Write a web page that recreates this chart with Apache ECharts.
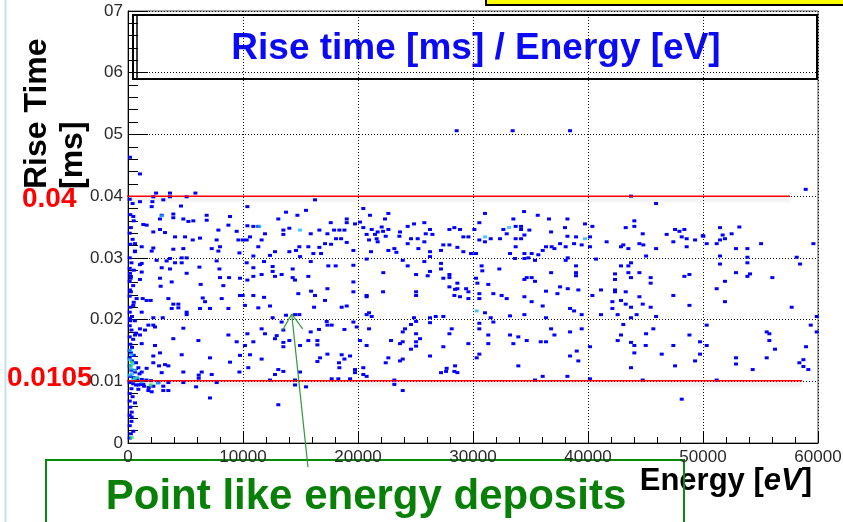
<!DOCTYPE html>
<html><head><meta charset="utf-8">
<script src="https://cdn.jsdelivr.net/npm/echarts@6/dist/echarts.min.js"></script>
<style>html,body{margin:0;padding:0;background:#fff;}#c{width:843px;height:522px;}</style>
</head><body><div id="c"></div>
<script>
// ---- Data (energy [eV], rise time [ms]) ----
const xTickValues = [0, 10000, 20000, 30000, 40000, 50000, 60000];
const yTickLabels = ['0', '0.01', '0.02', '0.03', '0.04', '05', '06', '07'];
const upperCut = 0.04;
const lowerCutLabel = '0.0105';
const lowerCutLine = 0.0101;
const upperCutRange = [-2435, 57565];
const lowerCutRange = [-870, 58610];
const arrowShaft = [[15650, -0.0039], [14235, 0.0209]];
const arrowHead = [[13450, 0.0183], [14235, 0.0209], [15190, 0.0185]];

const hitsNearZero = [[150,0.0395],[400,0.0388],[200,0.0370],[500,0.0360],[250,0.0349],[150,0.0340],[400,0.0330],[200,0.0322],[600,0.0310],[150,0.0300],[300,0.0292],[150,0.0283],[500,0.0280],[250,0.0270],[150,0.0262],[450,0.0255],[250,0.0245],[150,0.0238],[500,0.0228],[200,0.0220],[150,0.0212],[350,0.0205],[200,0.0198],[600,0.0198],[150,0.0190],[300,0.0183],[700,0.0178],[150,0.0172],[450,0.0168],[200,0.0160],[350,0.0155],[150,0.0150],[250,0.0146],[500,0.0142],[150,0.0138],[350,0.0133],[700,0.0130],[150,0.0125],[900,0.0122],[300,0.0118],[600,0.0115],[1000,0.0112],[200,0.0108],[500,0.0106],[800,0.0104],[1200,0.0103],[1600,0.0102],[2000,0.0101],[150,0.0098],[450,0.0096],[700,0.0094],[1100,0.0095],[1400,0.0092],[1800,0.0090],[300,0.0088],[900,0.0087],[150,0.0080],[400,0.0075],[150,0.0068],[200,0.0058],[150,0.0045],[300,0.0035],[150,0.0028],[250,0.0015],[150,0.0008]];

const hits0to10k = [[1040,0.0436],[170,0.0463],[2440,0.0405],[3650,0.0405],[5860,0.0405],[2200,0.0399],[3650,0.0399],[5100,0.0399],[1040,0.0391],[2120,0.0391],[3070,0.0394],[4610,0.0384],[2060,0.0383],[460,0.0367],[2930,0.0369],[3940,0.0371],[2780,0.0363],[3940,0.0365],[4810,0.0363],[5250,0.0359],[5680,0.0360],[6840,0.0369],[6840,0.0361],[8870,0.0367],[8730,0.0353],[7860,0.0345],[9450,0.0343],[1330,0.0354],[1620,0.0353],[2780,0.0346],[2200,0.0342],[3220,0.0341],[4090,0.0334],[4960,0.0334],[5630,0.0329],[6260,0.0332],[7710,0.0329],[9600,0.0329],[610,0.0323],[1190,0.0318],[2200,0.0316],[3940,0.0314],[2060,0.0311],[4810,0.0315],[7280,0.0315],[7860,0.0311],[8000,0.0318],[9690,0.0308],[610,0.0311],[3650,0.0299],[4670,0.0300],[5100,0.0300],[7710,0.0295],[2490,0.0296],[3360,0.0295],[4090,0.0292],[4670,0.0292],[1040,0.0289],[1190,0.0291],[2930,0.0284],[3650,0.0282],[6210,0.0285],[7950,0.0282],[1190,0.0277],[170,0.0275],[5100,0.0275],[2780,0.0267],[3800,0.0261],[8000,0.0268],[8790,0.0268],[230,0.0267],[1040,0.0265],[6320,0.0257],[9740,0.0267],[2840,0.0254],[8290,0.0255],[170,0.0248],[750,0.0234],[1280,0.0234],[1620,0.0231],[1970,0.0231],[3510,0.0234],[6500,0.0235],[9740,0.0239],[6700,0.0229],[8150,0.0234],[3940,0.0225],[4380,0.0225],[460,0.0223],[3800,0.0218],[4380,0.0219],[6260,0.0218],[7130,0.0218],[8730,0.0218],[1190,0.0212],[5100,0.0212],[5100,0.0208],[2200,0.0203],[3020,0.0203],[170,0.0202],[1770,0.0191],[2200,0.0191],[1040,0.0185],[1480,0.0183],[2350,0.0188],[4810,0.0186],[8730,0.0175],[610,0.0175],[1040,0.0175],[3940,0.0169],[9450,0.0164],[1190,0.0161],[2350,0.0158],[6120,0.0166],[2780,0.0146],[4670,0.0143],[9740,0.0142],[7130,0.0138],[8870,0.0131],[2200,0.0141],[2200,0.0130],[3220,0.0127],[2700,0.0125],[3510,0.0125],[1620,0.0121],[1190,0.0115],[2930,0.0114],[4810,0.0115],[6410,0.0115],[7280,0.0111],[6150,0.0110],[6150,0.0105],[9690,0.0115],[7710,0.0098],[4810,0.0098],[3510,0.0098],[2640,0.0098],[5920,0.0091],[900,0.0094],[1330,0.0095],[2200,0.0092],[3070,0.0092],[3070,0.0085],[3510,0.0085],[2060,0.0083],[1770,0.0085],[7130,0.0073],[610,0.0065],[320,0.0050],[320,0.0042],[460,0.0019]];

const hits10to20k = [[16260,0.0394],[10380,0.0383],[13740,0.0374],[15480,0.0377],[14730,0.0369],[13070,0.0363],[17630,0.0357],[19020,0.0363],[19020,0.0357],[19740,0.0355],[10380,0.0352],[10900,0.0351],[11330,0.0351],[13510,0.0345],[14030,0.0348],[16640,0.0345],[17920,0.0345],[18380,0.0345],[18820,0.0345],[11910,0.0339],[13510,0.0338],[15890,0.0339],[17340,0.0339],[10610,0.0334],[10000,0.0329],[10320,0.0329],[11620,0.0329],[18530,0.0331],[18090,0.0331],[19020,0.0325],[17130,0.0323],[11330,0.0318],[14900,0.0318],[15680,0.0318],[16640,0.0317],[17660,0.0322],[19600,0.0312],[14610,0.0312],[14030,0.0310],[12780,0.0310],[16120,0.0307],[12350,0.0304],[10900,0.0303],[14960,0.0302],[16790,0.0307],[11830,0.0294],[15890,0.0294],[10320,0.0292],[10900,0.0284],[12580,0.0286],[17420,0.0287],[18060,0.0287],[19600,0.0288],[12580,0.0278],[11620,0.0273],[13360,0.0273],[14320,0.0282],[10900,0.0270],[12780,0.0270],[15680,0.0270],[14320,0.0268],[14520,0.0264],[10380,0.0264],[19600,0.0261],[17340,0.0250],[15920,0.0246],[19600,0.0245],[14810,0.0242],[9970,0.0239],[10900,0.0239],[16260,0.0239],[11830,0.0236],[17130,0.0231],[10170,0.0223],[12350,0.0222],[16180,0.0220],[19020,0.0222],[18580,0.0220],[11330,0.0219],[12580,0.0203],[13360,0.0196],[14900,0.0208],[14520,0.0208],[13740,0.0207],[17340,0.0191],[17710,0.0191],[17280,0.0197],[19600,0.0196],[19890,0.0188],[18820,0.0184],[11620,0.0185],[13510,0.0183],[15890,0.0180],[16610,0.0184],[10380,0.0177],[11910,0.0177],[12930,0.0174],[12780,0.0169],[10900,0.0164],[14030,0.0166],[15680,0.0166],[16470,0.0166],[13510,0.0163],[10170,0.0158],[13510,0.0156],[14960,0.0158],[16470,0.0159],[17340,0.0144],[18580,0.0143],[19310,0.0141],[11620,0.0136],[10610,0.0143],[16700,0.0138],[16470,0.0132],[18820,0.0136],[18350,0.0130],[18380,0.0122],[19740,0.0119],[19740,0.0114],[10460,0.0122],[13070,0.0119],[13510,0.0116],[14960,0.0115],[12780,0.0111],[12350,0.0102],[14520,0.0102],[17710,0.0104],[18290,0.0104],[19310,0.0104],[14520,0.0094],[15480,0.0091],[13070,0.0062]];

const hits20to30k = [[28580,0.0506],[20460,0.0380],[21040,0.0369],[22640,0.0372],[20170,0.0358],[22350,0.0363],[22060,0.0350],[20460,0.0349],[21190,0.0346],[22640,0.0346],[21710,0.0342],[22180,0.0343],[24320,0.0351],[24870,0.0355],[25770,0.0357],[26260,0.0346],[25890,0.0339],[26470,0.0338],[27950,0.0346],[28380,0.0349],[28870,0.0346],[23650,0.0342],[20750,0.0338],[21480,0.0338],[22410,0.0335],[23600,0.0335],[24610,0.0331],[25190,0.0331],[29160,0.0334],[29600,0.0334],[20960,0.0329],[21620,0.0331],[21710,0.0326],[25770,0.0326],[24320,0.0323],[27420,0.0321],[27950,0.0321],[28640,0.0317],[25250,0.0315],[23160,0.0315],[26260,0.0310],[27220,0.0312],[29160,0.0310],[29830,0.0307],[21130,0.0310],[22640,0.0312],[23340,0.0309],[26260,0.0302],[20750,0.0298],[23890,0.0296],[25770,0.0294],[27220,0.0291],[24320,0.0287],[27220,0.0282],[26260,0.0278],[22200,0.0276],[25050,0.0273],[27950,0.0273],[27950,0.0268],[27420,0.0267],[26060,0.0271],[28640,0.0259],[27950,0.0253],[28440,0.0249],[28640,0.0250],[29400,0.0250],[29600,0.0245],[22180,0.0245],[25050,0.0245],[25050,0.0239],[20750,0.0239],[20750,0.0237],[28380,0.0239],[28870,0.0237],[29600,0.0234],[20750,0.0208],[20960,0.0211],[21190,0.0205],[24870,0.0203],[25050,0.0197],[26260,0.0203],[26760,0.0205],[27420,0.0205],[26260,0.0195],[24610,0.0192],[24090,0.0185],[23890,0.0180],[28150,0.0185],[27950,0.0177],[20960,0.0185],[25050,0.0177],[25390,0.0169],[20170,0.0166],[22870,0.0166],[23650,0.0161],[23890,0.0164],[25050,0.0164],[29600,0.0161],[20750,0.0158],[25050,0.0157],[27420,0.0156],[24610,0.0152],[26260,0.0141],[22640,0.0138],[23890,0.0136],[23650,0.0133],[22410,0.0130],[20460,0.0122],[28440,0.0125],[27710,0.0121],[27660,0.0116],[27220,0.0114],[28380,0.0116],[28640,0.0114],[20460,0.0111],[20750,0.0108],[23160,0.0102],[23160,0.0095],[23890,0.0085]];

const hits30to40k = [[33450,0.0506],[38440,0.0506],[31040,0.0372],[34440,0.0375],[35630,0.0369],[30550,0.0357],[33510,0.0363],[36610,0.0363],[38210,0.0363],[39740,0.0355],[33710,0.0351],[34180,0.0351],[32640,0.0346],[30120,0.0346],[34180,0.0346],[34900,0.0345],[36790,0.0342],[32930,0.0339],[34470,0.0337],[38000,0.0349],[38210,0.0335],[38960,0.0334],[31540,0.0331],[32350,0.0331],[33710,0.0331],[34180,0.0331],[30550,0.0329],[31040,0.0326],[37570,0.0323],[38790,0.0323],[39450,0.0321],[33710,0.0318],[36350,0.0318],[36840,0.0318],[37080,0.0315],[38060,0.0318],[36060,0.0312],[29880,0.0307],[30260,0.0307],[33220,0.0307],[34470,0.0307],[35100,0.0307],[35680,0.0305],[34810,0.0300],[35390,0.0296],[33650,0.0299],[34470,0.0299],[38240,0.0300],[38060,0.0296],[30750,0.0287],[38960,0.0287],[30810,0.0279],[32290,0.0282],[36790,0.0276],[38960,0.0276],[38960,0.0271],[30260,0.0267],[34670,0.0268],[35100,0.0268],[34470,0.0265],[35390,0.0262],[30380,0.0259],[31330,0.0257],[37570,0.0253],[38240,0.0250],[39160,0.0248],[36350,0.0246],[37340,0.0242],[31770,0.0242],[32490,0.0239],[30550,0.0242],[30550,0.0234],[32930,0.0234],[34470,0.0237],[35100,0.0229],[36060,0.0222],[38440,0.0218],[38790,0.0214],[31040,0.0211],[33220,0.0206],[34470,0.0208],[39450,0.0208],[31540,0.0203],[31770,0.0196],[36350,0.0203],[30550,0.0194],[30550,0.0185],[36790,0.0185],[39450,0.0185],[38440,0.0180],[31330,0.0175],[33220,0.0175],[33940,0.0172],[37080,0.0175],[34670,0.0166],[35890,0.0164],[36350,0.0164],[31330,0.0161],[33510,0.0161],[39020,0.0149],[38440,0.0141],[30550,0.0144],[30320,0.0138],[39160,0.0133],[33940,0.0125],[36060,0.0108],[38210,0.0108],[35390,0.0102]];

const hits40to50k = [[43740,0.0400],[45920,0.0388],[44030,0.0360],[44030,0.0351],[40380,0.0351],[43280,0.0349],[47570,0.0346],[47950,0.0343],[48380,0.0346],[44760,0.0339],[46840,0.0338],[48150,0.0334],[48580,0.0331],[49310,0.0329],[49980,0.0336],[40170,0.0334],[41620,0.0326],[42870,0.0318],[43070,0.0321],[43510,0.0315],[44470,0.0323],[44810,0.0321],[45920,0.0315],[47420,0.0326],[48580,0.0318],[40170,0.0318],[45050,0.0303],[40700,0.0298],[43740,0.0292],[42870,0.0287],[43510,0.0287],[44470,0.0276],[43510,0.0276],[42350,0.0274],[42350,0.0265],[43740,0.0268],[45450,0.0268],[45450,0.0259],[48380,0.0270],[48820,0.0273],[41130,0.0248],[42350,0.0248],[42350,0.0245],[43280,0.0245],[40380,0.0239],[44470,0.0237],[47420,0.0239],[42870,0.0231],[42120,0.0229],[43280,0.0225],[44760,0.0225],[43740,0.0220],[45450,0.0220],[42120,0.0218],[48820,0.0223],[41130,0.0208],[42580,0.0208],[44230,0.0208],[43740,0.0203],[45920,0.0205],[43070,0.0192],[45680,0.0185],[45050,0.0177],[42870,0.0175],[48820,0.0175],[42580,0.0166],[43740,0.0163],[44030,0.0158],[45020,0.0158],[47420,0.0158],[49740,0.0164],[40170,0.0156],[44030,0.0146],[46410,0.0144],[49740,0.0144],[49310,0.0133],[47570,0.0125],[43740,0.0122],[40170,0.0104],[44760,0.0102],[48150,0.0071]];

const hits50to60k = [[58930,0.0411],[53160,0.0350],[51480,0.0349],[52490,0.0339],[51710,0.0337],[50030,0.0335],[51910,0.0331],[51480,0.0329],[50320,0.0323],[51190,0.0323],[55050,0.0323],[59600,0.0323],[52870,0.0315],[53860,0.0315],[51480,0.0303],[53860,0.0301],[53860,0.0292],[58150,0.0301],[58440,0.0290],[51480,0.0290],[52870,0.0276],[54090,0.0274],[53860,0.0270],[56030,0.0268],[51910,0.0262],[51190,0.0250],[51910,0.0229],[57710,0.0220],[59890,0.0205],[50320,0.0191],[59370,0.0191],[59890,0.0180],[55540,0.0180],[55770,0.0177],[55770,0.0166],[50320,0.0158],[58960,0.0156],[56260,0.0152],[52870,0.0138],[55540,0.0138],[58730,0.0135],[58380,0.0130],[52870,0.0128],[58730,0.0124],[54320,0.0119],[59160,0.0119],[51190,0.0102]];

const hitsMediumCount = [[200,0.0150],[300,0.0143],[150,0.0135],[400,0.0128],[250,0.0120],[600,0.0118],[350,0.0112],[150,0.0110],[800,0.0106],[450,0.0102],[1200,0.0099],[2600,0.0097],[2930,0.0368],[11420,0.0351],[14960,0.0345],[33130,0.0349],[31040,0.0334],[30320,0.0214],[39740,0.0331]];
const hitsHighCount = [[320,0.0009],[250,0.0125],[600,0.0105],[1970,0.0094],[320,0.0131]];

// ---- Chart ----
const lowCount = [].concat(hitsNearZero, hits0to10k, hits10to20k, hits20to30k, hits30to40k, hits40to50k, hits50to60k);
const chart = echarts.init(document.getElementById('c'), null, {renderer: 'canvas'});
const FONT = '"Liberation Sans", Arial, Helvetica, sans-serif';
const tickLabelStyle = {fontFamily: FONT, fontSize: 17, color: '#2a2a2a'};
const dotted = {color: '#111', type: [1, 2], width: 1};

const option = {
  animation: false,
  backgroundColor: '#ffffff',
  grid: {left: 128, right: 25, top: 11, bottom: 79, show: true, borderColor: '#555', borderWidth: 1, outerBoundsMode: 'none', containLabel: false},
  xAxis: {
    type: 'value', min: xTickValues[0], max: xTickValues[xTickValues.length - 1], interval: 10000,
    axisLine: {show: true, onZero: false, lineStyle: {color: '#000', width: 1}},
    axisTick: {show: true, inside: true, length: 12, lineStyle: {color: '#000'}},
    minorTick: {show: true, splitNumber: 5, length: 6, lineStyle: {color: '#000'}},
    axisLabel: Object.assign({margin: 6, showMinLabel: true, showMaxLabel: true, hideOverlap: false,
      formatter: (v) => String(Math.round(v))}, tickLabelStyle),
    splitLine: {show: true, lineStyle: dotted}
  },
  yAxis: {
    type: 'value', min: 0, max: 0.07, interval: 0.01,
    axisLine: {show: true, onZero: false, lineStyle: {color: '#000', width: 1}},
    axisTick: {show: true, inside: true, length: 20, lineStyle: {color: '#000'}},
    minorTick: {show: true, splitNumber: 5, length: 10, lineStyle: {color: '#000'}},
    axisLabel: Object.assign({margin: 5, showMinLabel: true, showMaxLabel: true, hideOverlap: false,
      formatter: (v) => yTickLabels[Math.round(v * 100)]}, tickLabelStyle),
    splitLine: {show: true, lineStyle: dotted}
  },
  series: [
    {type: 'scatter', name: 'low', data: lowCount, symbol: 'rect', symbolSize: [4, 3], itemStyle: {color: '#0000ff', opacity: 1}, silent: true, z: 3},
    {type: 'scatter', name: 'medium', data: hitsMediumCount, symbol: 'rect', symbolSize: [4, 3], itemStyle: {color: '#22b8ff'}, silent: true, z: 4},
    {type: 'scatter', name: 'high', data: hitsHighCount, symbol: 'rect', symbolSize: [4, 3], itemStyle: {color: '#22ee66'}, silent: true, z: 5},
    {type: 'line', name: 'upper cut', data: [[upperCutRange[0], upperCut], [upperCutRange[1], upperCut]], clip: false, symbol: 'none', silent: true, z: 6,
      lineStyle: {color: '#ff0000', width: 1.5, shadowColor: 'rgba(0,0,0,0.22)', shadowBlur: 4, shadowOffsetY: 3}},
    {type: 'line', name: 'lower cut', data: [[lowerCutRange[0], lowerCutLine], [lowerCutRange[1], lowerCutLine]], clip: false, symbol: 'none', silent: true, z: 6,
      lineStyle: {color: '#ff0000', width: 1.5, shadowColor: 'rgba(0,0,0,0.22)', shadowBlur: 4, shadowOffsetY: 3}},
    {type: 'line', name: 'arrow', data: arrowShaft, clip: false, symbol: 'none', silent: true, z: 7, lineStyle: {color: '#2f9a3a', width: 1.2}},
    {type: 'line', name: 'arrow head', data: arrowHead, clip: false, symbol: 'none', silent: true, z: 7, lineStyle: {color: '#2f9a3a', width: 1.2}}
  ],
  graphic: [
    {type: 'line', shape: {x1: 5.5, y1: 0, x2: 5.5, y2: 522}, style: {stroke: '#c4e2ea', lineWidth: 2}, silent: true},
    {type: 'rect', shape: {x: 486, y: -10, width: 400, height: 15}, style: {fill: '#ffff00', stroke: '#000', lineWidth: 2}, silent: true},
    {type: 'rect', shape: {x: 133, y: 15, width: 684, height: 64}, style: {fill: 'none', stroke: '#000', lineWidth: 2}, silent: true},
    {type: 'line', shape: {x1: 137, y1: 15, x2: 137, y2: 79}, style: {stroke: '#000', lineWidth: 1.5}, silent: true},
    {type: 'text', x: 476, y: 49, silent: true,
      style: {text: 'Rise time [ms] / Energy [eV]', font: 'bold 37px ' + FONT, fill: '#0a0af5', align: 'center', verticalAlign: 'middle'}},
    {type: 'text', x: 37, y: 189, rotation: Math.PI / 2, silent: true,
      style: {text: 'Rise Time', font: 'bold 32px ' + FONT, fill: '#000', align: 'left', verticalAlign: 'middle'}},
    {type: 'text', x: 73, y: 189, rotation: Math.PI / 2, silent: true,
      style: {text: '[ms]', font: 'bold 32px ' + FONT, fill: '#000', align: 'left', verticalAlign: 'middle'}},
    {type: 'text', x: 22, y: 199, silent: true,
      style: {text: upperCut.toFixed(2), font: 'bold 28px ' + FONT, fill: '#ff0000', align: 'left', verticalAlign: 'middle'}},
    {type: 'text', x: 7, y: 378, silent: true,
      style: {text: lowerCutLabel, font: 'bold 28px ' + FONT, fill: '#ff0000', align: 'left', verticalAlign: 'middle'}},
    {type: 'text', x: 812, y: 481, silent: true,
      style: {text: 'Energy [{i|eV}]', font: 'bold 31px ' + FONT, fill: '#000', align: 'right', verticalAlign: 'middle',
        rich: {i: {fontStyle: 'italic', fontWeight: 'bold', fontSize: 31, fontFamily: FONT, fill: '#000'}}}},
    {type: 'rect', shape: {x: 46, y: 460, width: 638, height: 80}, style: {fill: 'none', stroke: '#0a8a0a', lineWidth: 2}, silent: true},
    {type: 'text', x: 366, y: 497, silent: true,
      style: {text: 'Point like energy deposits', font: 'bold 42px ' + FONT, fill: '#088008', align: 'center', verticalAlign: 'middle'}}
  ]
};
chart.setOption(option);
</script>
</body></html>
